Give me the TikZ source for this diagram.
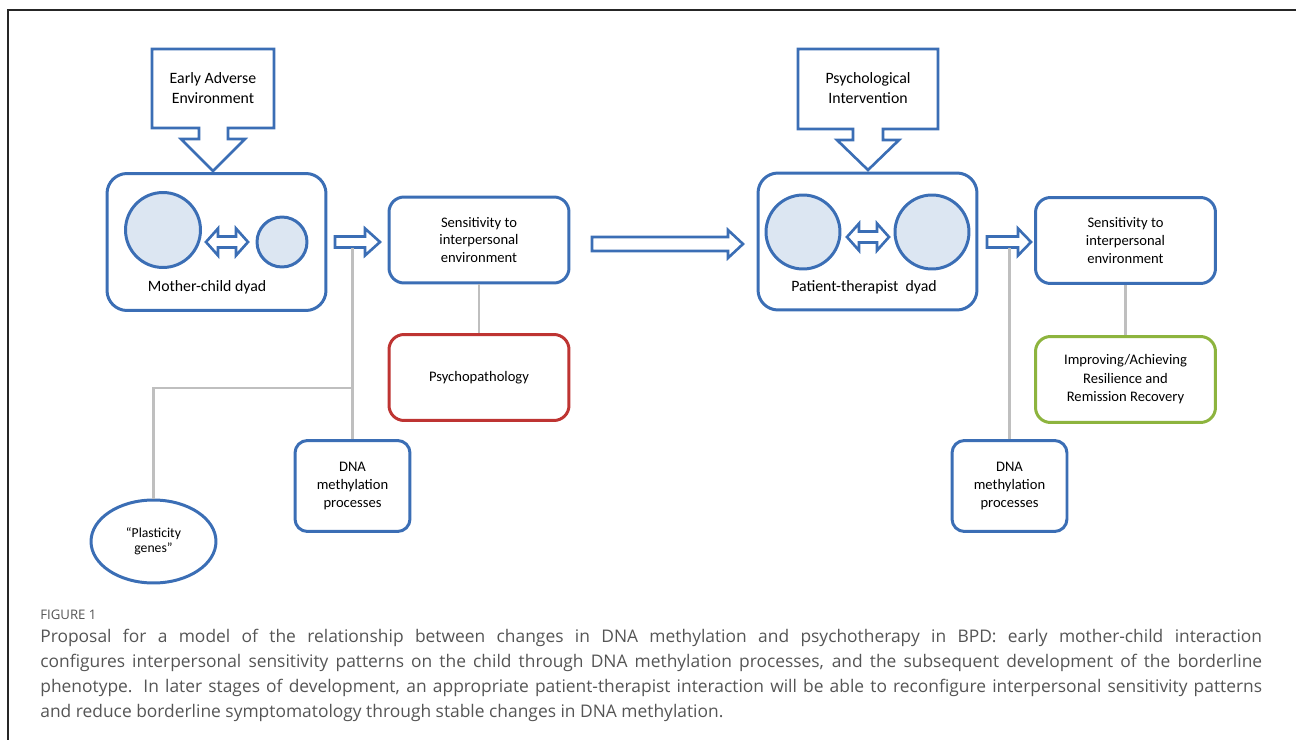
\documentclass[tikz,border=0pt]{standalone}
\usepackage{fontspec}
\setmainfont{Carlito}
\newfontfamily\capfont{Open Sans}
\usetikzlibrary{shapes.geometric}

\definecolor{boxblue}{RGB}{59,110,181}
\definecolor{dyadfill}{RGB}{220,230,242}
\definecolor{psyred}{RGB}{190,52,50}
\definecolor{resgreen}{RGB}{141,180,62}
\definecolor{linkgray}{RGB}{191,191,191}
\definecolor{capgray}{RGB}{85,85,85}

\tikzset{
  box/.style={draw=boxblue, line width=1.7pt, rounded corners=0.3cm, fill=white,
    align=center, minimum width=3.6cm, minimum height=1.72cm, inner sep=2pt,
    font=\fontsize{8.3}{10}\selectfont},
  dnabox/.style={box, minimum width=2.3cm, minimum height=1.82cm, rounded corners=0.25cm,
    font=\fontsize{8.3}{10.5}\selectfont},
  dyad/.style={draw=boxblue, line width=1.7pt, rounded corners=0.4cm,
    minimum width=4.38cm, minimum height=2.74cm},
  person/.style={circle, draw=boxblue, line width=1.7pt, fill=dyadfill, inner sep=0pt},
  blockarrow/.style={draw=boxblue, line width=1.5pt, fill=white, line join=miter},
  link/.style={draw=linkgray, line width=1.7pt},
  calltext/.style={font=\fontsize{9}{11.3}\selectfont, align=center}
}

\begin{document}
\begin{tikzpicture}[x=0.02cm, y=-0.02cm]
                      \useasboundingbox (0,0) rectangle (1296,740);
                      % Frame
                      \draw[black!85, line width=0.8pt] (8,740) -- (8,10) -- (1296,10);

                      % Early adverse environment
                      \draw[blockarrow] (152,49) -- (274,49) -- (274,128) -- (228,128) -- (228,139)
                          -- (245,139) -- (213,171) -- (181,139) -- (199,139) -- (199,128) -- (152,128) -- cycle;
                      \node[calltext] (early) at (213,88) {Early Adverse\\Environment};

                      % Mother-child dyad
                      \node[dyad] (mcdyad) at (216.5,242) {};
                      \node[person, minimum size=1.5cm] (mother) at (163,230) {};
                      \node[person, minimum size=1cm] (child) at (282,242) {};
                      \draw[blockarrow] (206,242) -- (218,228.5) -- (218,236.5) -- (236,236.5) -- (236,228.5)
                          -- (248,242) -- (236,255.5) -- (236,247.5) -- (218,247.5) -- (218,255.5) -- cycle;
                      \node[calltext] (mclabel) at (207,287) {Mother-child dyad};
                      \draw[blockarrow] (335,236.5) -- (365,236.5) -- (365,228.5) -- (380,242)
                          -- (365,255.5) -- (365,247.5) -- (335,247.5) -- cycle;

                      % Sensitivity, psychopathology, methylation
                      \node[box] (sensA) at (479,240) {Sensitivity to\\interpersonal\\environment};
                      \node[box, draw=psyred] (psycho) at (479,377.5) {Psychopathology};
                      \node[dnabox] (dnaA) at (352.5,486) {DNA\\methylation\\processes};
                      \node[ellipse, draw=boxblue, line width=1.7pt, minimum width=2.5cm, minimum height=1.66cm,
                          align=center, font=\fontsize{7.8}{8.6}\selectfont] (genes) at (153.5,541.5) {“Plasticity\\genes”};
                      \coordinate (forkA) at (353,248);
                      \coordinate (joinA) at (353,388);
                      \draw[link] (sensA) -- (psycho);
                      \draw[link] (dnaA.north) -- (dnaA.north |- forkA);
                      \draw[link] (genes.north) |- (joinA);

                      % Long arrow
                      \draw[blockarrow] (592,237) -- (728,237) -- (728,230) -- (743,244)
                          -- (728,258) -- (728,251) -- (592,251) -- cycle;

                      % Psychological intervention
                      \draw[blockarrow] (798,49) -- (938,49) -- (938,129) -- (883,129) -- (883,140)
                          -- (899,140) -- (868,170) -- (837,140) -- (853,140) -- (853,129) -- (798,129) -- cycle;
                      \node[calltext] (psyint) at (868,88) {Psychological\\Intervention};

                      % Patient-therapist dyad
                      \node[dyad] (ptdyad) at (867.5,241.5) {};
                      \node[person, minimum size=1.48cm] (patient) at (803,232) {};
                      \node[person, minimum size=1.48cm] (therapist) at (932,232) {};
                      \draw[blockarrow] (847,237) -- (859,223.5) -- (859,231.5) -- (877,231.5) -- (877,223.5)
                          -- (889,237) -- (877,250.5) -- (877,242.5) -- (859,242.5) -- (859,250.5) -- cycle;
                      \node[calltext] (ptlabel) at (864,287) {Patient-therapist\ \ dyad};
                      \draw[blockarrow] (987,236.5) -- (1018,236.5) -- (1018,228.5) -- (1031,242)
                          -- (1018,255.5) -- (1018,247.5) -- (987,247.5) -- cycle;

                      % Sensitivity, resilience, methylation
                      \node[box] (sensB) at (1125.5,240.5) {Sensitivity to\\interpersonal\\environment};
                      \node[box, draw=resgreen, font=\fontsize{8.3}{10.5}\selectfont] (resil) at (1125.5,379.5)
                          {Improving/Achieving\\Resilience and\\Remission Recovery};
                      \node[dnabox] (dnaB) at (1009.5,486) {DNA\\methylation\\processes};
                      \coordinate (forkB) at (1008,248);
                      \draw[link] (sensB) -- (resil);
                      \draw[link] (dnaB.north) -- (dnaB.north |- forkB);

                      % Caption
                      \node[anchor=west, inner sep=0pt, text=capgray, font=\capfont\fontsize{7.5}{9}\selectfont] (fig) at (40,615) {FIGURE 1};
                      \node[anchor=north west, inner sep=0pt, text width=24.44cm, align=justify, text=capgray,
                          font=\capfont\fontsize{9.9}{14.17}\selectfont] (caption) at (40,629)
                          {Proposal for a model of the relationship between changes in DNA methylation and psychotherapy in BPD: early mother-child interaction\linebreak
                          configures interpersonal sensitivity patterns on the child through DNA methylation processes, and the subsequent development of the borderline\linebreak
                          phenotype. In later stages of development, an appropriate patient-therapist interaction will be able to reconfigure interpersonal sensitivity patterns\linebreak
                          and reduce borderline symptomatology through stable changes in DNA methylation.};

                  \end{tikzpicture}
\end{document}
